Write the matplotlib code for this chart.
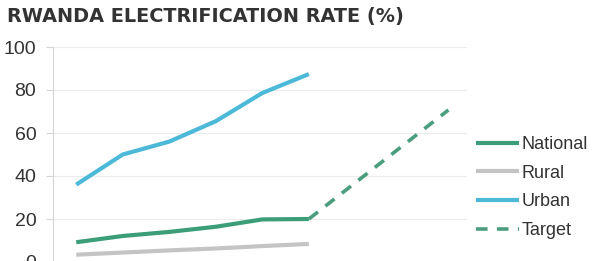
import matplotlib.pyplot as plt

# index 0..5 = yearly points, 8 = target year
x_hist = [0, 1, 2, 3, 4, 5]
national = [9.2, 12.1, 14.0, 16.4, 19.8, 20.0]
rural = [3.4, 4.4, 5.4, 6.3, 7.4, 8.4]
urban = [36.0, 50.0, 56.0, 65.5, 78.6, 87.4]
x_target = [5, 8]
target = [20.0, 70.7]

plt.rcParams['font.family'] = ['Liberation Sans', 'DejaVu Sans']

fig = plt.figure(figsize=(6, 2.61), dpi=100)
ax = fig.add_axes([53 / 600, -1 / 261, (467 - 53) / 600, 215 / 261])

green = '#3c9e78'
ax.plot(x_hist, national, color=green, lw=3, label='National', solid_capstyle='butt')
ax.plot(x_hist, rural, color='#c4c4c4', lw=3, label='Rural', solid_capstyle='butt')
ax.plot(x_hist, urban, color='#4cb9d9', lw=3, label='Urban', solid_capstyle='butt')
ax.plot(x_target, target, color='#4a9e7e', lw=2.6, ls=(0, (3.2, 2.6)), label='Target')

ax.set_xlim(-0.5, 8.4)
ax.set_ylim(0, 100)
ax.set_yticks([0, 20, 40, 60, 80, 100])
ax.set_xticks([])
ax.grid(axis='y', color='#ececec', lw=0.8)
ax.set_axisbelow(True)
for s in ['top', 'right', 'bottom']:
    ax.spines[s].set_visible(False)
ax.spines['left'].set_color('#d5d5d5')
ax.tick_params(axis='y', length=5, color='#d5d5d5', labelsize=14, labelcolor='#333333', pad=7)

fig.text(0.012, 0.935, 'RWANDA ELECTRIFICATION RATE (%)', fontsize=13.9, fontweight='bold',
         color='#333333', va='center', ha='left', family=['DejaVu Sans'])

fig.legend(loc='upper left', bbox_to_anchor=(467 / 600, 1 - 127 / 261), frameon=False,
           fontsize=13, handlelength=2.4, handletextpad=0.1, labelspacing=0.65,
           labelcolor='#333333', borderpad=0)

fig.savefig('out.png')
